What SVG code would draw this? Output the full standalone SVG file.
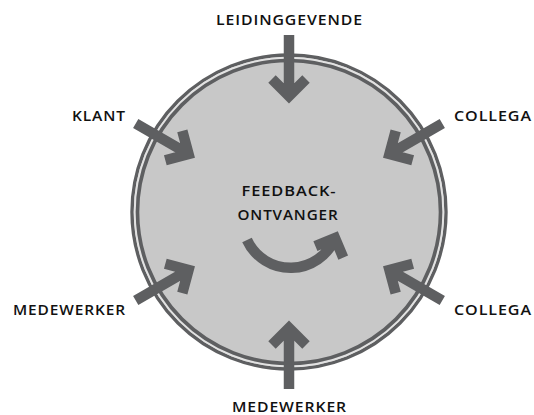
<svg xmlns="http://www.w3.org/2000/svg" width="534" height="415" viewBox="0 0 534 415">
<style>
.lbl{font-family:"Open Sans",Lato,"DejaVu Sans",sans-serif;font-weight:600;font-size:14px;fill:#111111;letter-spacing:0.8px}
.arr{fill:none;stroke:#5e5f61;stroke-width:10.5;stroke-linejoin:miter;stroke-miterlimit:10;stroke-linecap:butt}
</style>
<defs>
<path id="inArrow" class="arr" d="M-177,0 H-116 M-133,-17 L-116,0 L-133,17"/>
</defs>
<rect width="534" height="415" fill="#ffffff"/>
<g id="circle">
<circle cx="289" cy="212" r="157" fill="#c8c8c8" stroke="#5e5f61" stroke-width="3.4"/>
<circle cx="289" cy="212" r="154.3" fill="none" stroke="#e2e2e2" stroke-width="2"/>
<circle cx="289" cy="212" r="151.5" fill="none" stroke="#5e5f61" stroke-width="3.6"/>
</g>
<g id="connectors">
<use href="#inArrow" transform="translate(289,212) rotate(90)"/>
<use href="#inArrow" transform="translate(289,212) rotate(30)"/>
<use href="#inArrow" transform="translate(289,212) rotate(150)"/>
<use href="#inArrow" transform="translate(289,212) rotate(-30)"/>
<use href="#inArrow" transform="translate(289,212) rotate(-150)"/>
<use href="#inArrow" transform="translate(289,212) rotate(-90)"/>
<path class="arr" stroke-width="9.5" d="M247,240 A48,48 0 0 0 335,238 M315.4,246.2 L335,238 L343.2,257.6"/>
</g>
<g id="center"><text class="lbl" x="289" y="196" text-anchor="middle" textLength="95" lengthAdjust="spacingAndGlyphs">FEEDBACK-</text><text class="lbl" x="288" y="220" text-anchor="middle" textLength="101" lengthAdjust="spacingAndGlyphs">ONTVANGER</text></g>
<g id="leidinggevende"><text class="lbl" x="289.5" y="25" text-anchor="middle" textLength="147" lengthAdjust="spacingAndGlyphs">LEIDINGGEVENDE</text></g>
<g id="klant"><text class="lbl" x="72" y="121" textLength="54" lengthAdjust="spacingAndGlyphs">KLANT</text></g>
<g id="collega1"><text class="lbl" x="454" y="121" textLength="78" lengthAdjust="spacingAndGlyphs">COLLEGA</text></g>
<g id="medewerker1"><text class="lbl" x="13" y="315" textLength="113" lengthAdjust="spacingAndGlyphs">MEDEWERKER</text></g>
<g id="collega2"><text class="lbl" x="454" y="315" textLength="78" lengthAdjust="spacingAndGlyphs">COLLEGA</text></g>
<g id="medewerker2"><text class="lbl" x="289.5" y="412" text-anchor="middle" textLength="115" lengthAdjust="spacingAndGlyphs">MEDEWERKER</text></g>
</svg>
